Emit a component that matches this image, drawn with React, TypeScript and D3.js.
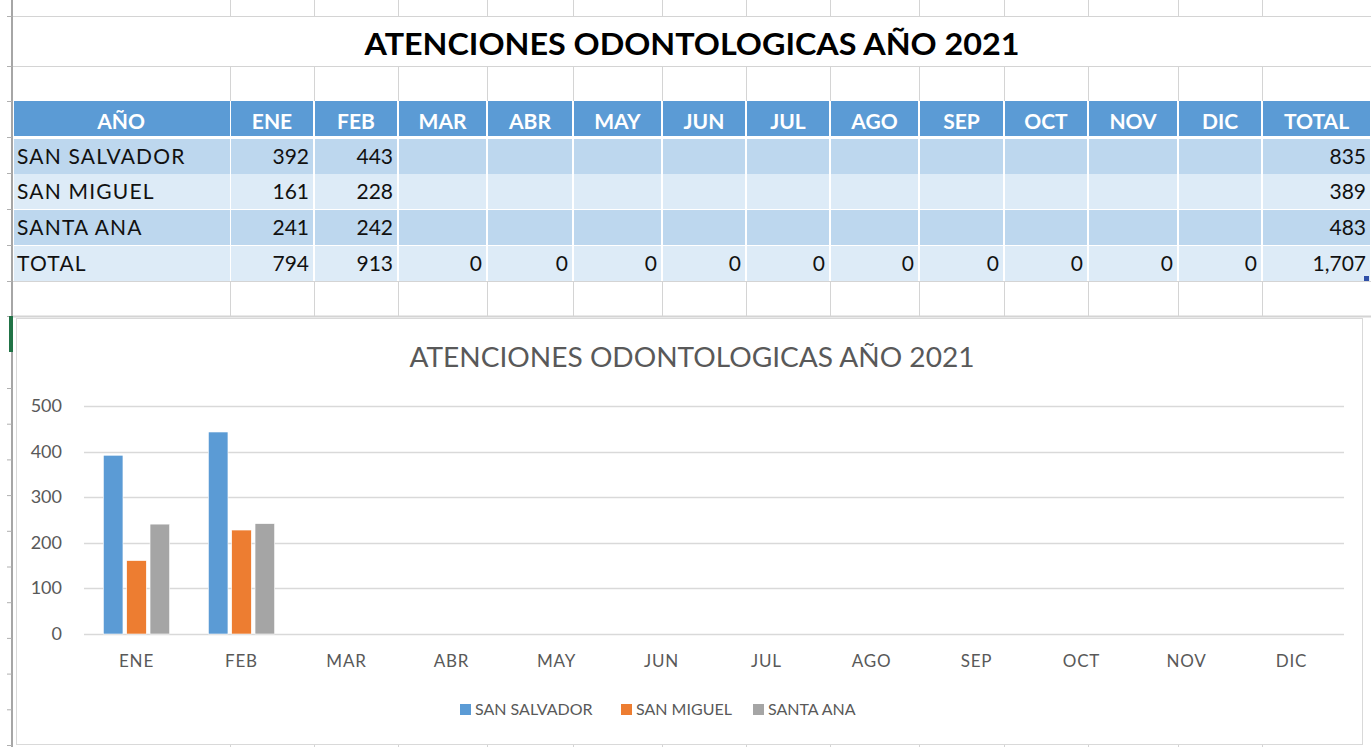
import React from "react";
import * as d3 from "d3";

// values
const months = ["ENE", "FEB", "MAR", "ABR", "MAY", "JUN", "JUL", "AGO", "SEP", "OCT", "NOV", "DIC"];
const regions = ["SAN SALVADOR", "SAN MIGUEL", "SANTA ANA"];
const sanSalvador = [392, 443];
const sanMiguel = [161, 228];
const santaAna = [241, 242];
const yTicks = [0, 100, 200, 300, 400, 500];
const colors = ["#5B9BD5", "#ED7D31", "#A5A5A5"];

const series = [sanSalvador, sanMiguel, santaAna];
const title = "ATENCIONES ODONTOLOGICAS AÑO 2021";
const font = "Lato, 'Open Sans', sans-serif";
const fmt = d3.format(",");

// sheet layout
const colEdges = [12, 230, 314, 398, 487, 573, 662, 746, 830, 919, 1004, 1088, 1178, 1262, 1371];
const rowTops = [139, 174, 210, 246];
const rowH = 35;

export default function App() {
	const W = 1371, H = 747;

	// chart scales
	const x = d3.scaleBand().domain(months).range([84, 1344]);
	const inner = d3.scaleBand().domain(regions).range([0, x.bandwidth()]).paddingInner(0.16).paddingOuter(0.83);
	const y = d3.scaleLinear().domain([0, 500]).range([634, 406]);

	const monthTotals = months.map((m, i) => d3.sum(series, s => s[i] || 0));
	const regionTotals = series.map(s => d3.sum(s));
	const grand = d3.sum(regionTotals);

	const rows = regions.map((r, i) => ({
		label: r,
		cells: months.map((m, j) => series[i][j] == null ? "" : String(series[i][j])),
		total: fmt(regionTotals[i]),
	}));
	rows.push({ label: "TOTAL", cells: monthTotals.map(v => fmt(v)), total: fmt(grand) });

	const headers = ["AÑO", ...months, "TOTAL"];
	const sheetRowLines = d3.range(388, 747, 35.7);

	// legend layout
	const legendX = [460, 621, 753];

	return (
		<svg width={W} height={H} style={{ position: "absolute", left: 0, top: 0, display: "block", background: "#fff" }}>
			{/* sheet gridlines */}
			<g stroke="#d4d4d4" strokeWidth={1}>
				<line x1={12} x2={W} y1={16.5} y2={16.5} />
				<line x1={12} x2={W} y1={66.5} y2={66.5} />
				<line x1={12} x2={W} y1={281.5} y2={281.5} />
				<line x1={12} x2={W} y1={316.5} y2={316.5} strokeWidth={2} />
				{colEdges.slice(1, -1).map(c => (
					<g key={c}>
						<line x1={c + 0.5} x2={c + 0.5} y1={0} y2={16} />
						<line x1={c + 0.5} x2={c + 0.5} y1={66} y2={101} />
						<line x1={c + 0.5} x2={c + 0.5} y1={281} y2={316} />
						<line x1={c + 0.5} x2={c + 0.5} y1={745} y2={747} />
					</g>
				))}
			</g>
			{/* row header edge */}
			<line x1={12} x2={12} y1={0} y2={H} stroke="#a6a6a6" strokeWidth={2} />
			<g stroke="#b0b0b0">
				{[16, 66, 101, 137, 173, 209, 245, 281, 316, ...sheetRowLines].map((r, i) => (
					<line key={i} x1={7} x2={12} y1={r + 0.5} y2={r + 0.5} />
				))}
			</g>
			<rect x={9} y={316} width={4} height={36} fill="#217346" />

			{/* big title */}
			<text x={692} y={55} textAnchor="middle" fontFamily={font} fontWeight={700} fontSize={30} fill="#000" textLength={655} lengthAdjust="spacingAndGlyphs">{title}</text>

			{/* table header */}
			{headers.map((h, i) => {
				const x0 = colEdges[i], x1 = colEdges[i + 1];
				return (
					<g key={h}>
						<rect x={x0 + (i ? 1 : 2)} y={101} width={x1 - x0 - 2} height={35} fill="#5B9BD5" />
						<text x={(x0 + x1) / 2} y={129} textAnchor="middle" fontFamily={font} fontWeight={700} fontSize={21} fill="#fff">{h}</text>
					</g>
				);
			})}

			{/* table body */}
			{rows.map((r, ri) => {
				const top = rowTops[ri];
				const fill = ri % 2 === 0 ? "#BDD7EE" : "#DDEBF7";
				const values = [r.label, ...r.cells, r.total];
				return (
					<g key={r.label}>
						{values.map((v, ci) => {
							const x0 = colEdges[ci], x1 = colEdges[ci + 1];
							return (
								<g key={ci}>
									<rect x={x0 + (ci ? 1 : 2)} y={top} width={x1 - x0 - 2} height={rowH} fill={fill} />
									{ci === 0
										? <text x={17} y={top + 25} fontFamily={font} fontSize={21} letterSpacing={1.2} fill="#111">{v}</text>
										: <text x={x1 - 5} y={top + 25} textAnchor="end" fontFamily={font} fontSize={21} fill="#111">{v}</text>}
								</g>
							);
						})}
					</g>
				);
			})}
			<rect x={1364} y={276} width={5} height={5} fill="#2F4FA8" />

			{/* chart area */}
			<rect x={16.5} y={318.5} width={1346} height={426} fill="#fff" stroke="#d9d9d9" />
			<text x={692} y={367} textAnchor="middle" fontFamily={font} fontSize={27} fill="#595959" textLength={565} lengthAdjust="spacingAndGlyphs">{title}</text>

			<g>
				{yTicks.map(t => (
					<g key={t}>
						<line x1={84} x2={1344} y1={Math.round(y(t)) + 0.5} y2={Math.round(y(t)) + 0.5} stroke="#d9d9d9" strokeWidth={1.5} />
						<text x={62} y={y(t) + 6} textAnchor="end" fontFamily={font} fontSize={18} fill="#595959">{t}</text>
					</g>
				))}
			</g>

			<g>
				{months.map((m, i) => (
					<g key={m} transform={`translate(${x(m)},0)`}>
						{regions.map((r, k) => {
							const v = series[k][i];
							if (v == null) return null;
							return <rect key={r} x={inner(r)} y={y(v)} width={inner.bandwidth()} height={y(0) - y(v)} fill={colors[k]} stroke="#fff" strokeWidth={0.6} />;
						})}
					</g>
				))}
			</g>

			<g>
				{months.map(m => (
					<text key={m} x={(x(m) || 0) + x.bandwidth() / 2} y={667} textAnchor="middle" fontFamily={font} fontSize={17} letterSpacing={0.8} fill="#595959">{m}</text>
				))}
			</g>

			<g>
				{regions.map((r, k) => (
					<g key={r} transform={`translate(${legendX[k]},0)`}>
						<rect x={0} y={704} width={11} height={11} fill={colors[k]} />
						<text x={15} y={715} fontFamily={font} fontSize={16} fill="#595959">{r}</text>
					</g>
				))}
			</g>
		</svg>
	);
}
